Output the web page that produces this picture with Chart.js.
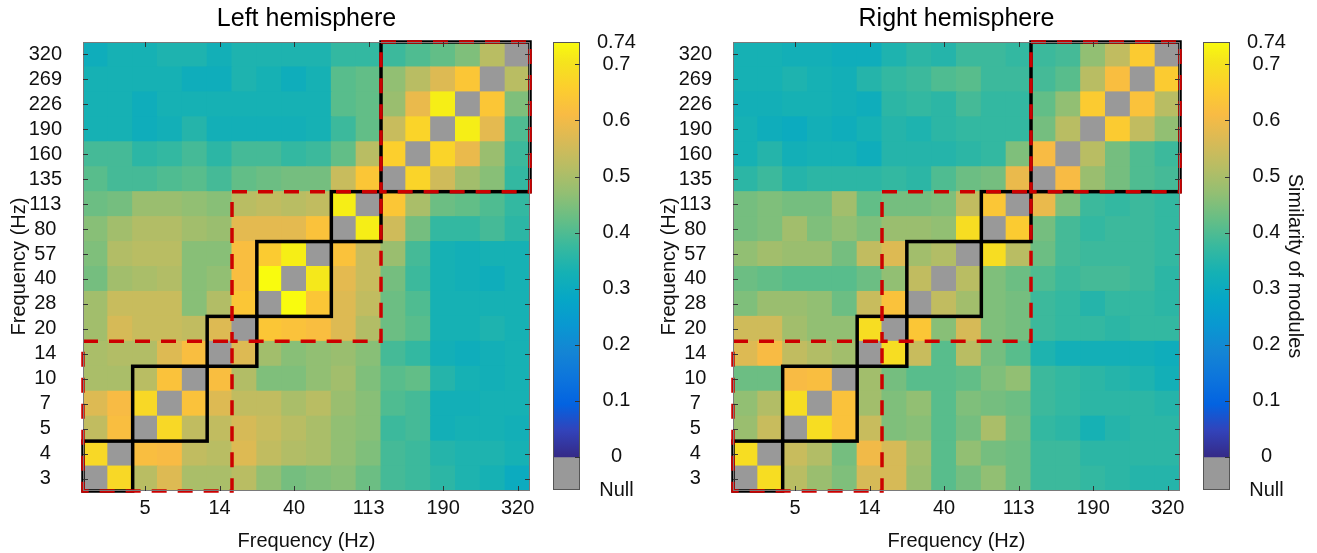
<!DOCTYPE html>
<html>
<head>
<meta charset="utf-8">
<script src="https://cdn.jsdelivr.net/npm/chart.js@4.4.1/dist/chart.umd.min.js"></script>
<style>
  html, body { margin: 0; padding: 0; background: #fff; }
  #wrap { position: relative; width: 1317px; height: 553px; overflow: hidden; }
  canvas { position: absolute; top: 0; }
</style>
</head>
<body>
<div id="wrap">
  <canvas id="leftMap" width="545" height="553" style="left:0px"></canvas>
  <canvas id="leftBar" width="100" height="553" style="left:545px"></canvas>
  <canvas id="rightMap" width="545" height="553" style="left:650px"></canvas>
  <canvas id="rightBar" width="122" height="553" style="left:1195px"></canvas>
</div>
<script>
// frequencies, rows listed bottom (3 Hz) to top (320 Hz)
const freqLabels = ['3', '4', '5', '7', '10', '14', '20', '28', '40', '57', '80', '113', '135', '160', '190', '226', '269', '320'];
const xTickLabels = ['5', '14', '40', '113', '190', '320'];
const colorbarTicks = [0, 0.1, 0.2, 0.3, 0.4, 0.5, 0.6, 0.7, 0.74];
const colorMax = 0.74;

// module boundaries as index ranges [start, end)
const modules = [[0, 2], [2, 5], [5, 7], [7, 10], [10, 12], [12, 18]];
const moduleGroups = [[0, 6], [6, 12], [12, 18]];

// similarity of modules, row i = freqLabels[i], null = diagonal
const leftHemisphere = [
  [null, 0.68, 0.52, 0.57, 0.50, 0.50, 0.52, 0.47, 0.44, 0.45, 0.46, 0.43, 0.39, 0.38, 0.36, 0.34, 0.33, 0.30], // 3
  [0.68, null, 0.62, 0.61, 0.53, 0.52, 0.57, 0.53, 0.51, 0.50, 0.47, 0.45, 0.39, 0.38, 0.35, 0.34, 0.34, 0.33], // 4
  [0.53, 0.62, null, 0.68, 0.53, 0.53, 0.56, 0.54, 0.52, 0.50, 0.47, 0.46, 0.38, 0.39, 0.32, 0.33, 0.33, 0.32], // 5
  [0.57, 0.61, 0.68, null, 0.63, 0.57, 0.53, 0.53, 0.50, 0.52, 0.48, 0.46, 0.40, 0.39, 0.32, 0.32, 0.33, 0.33], // 7
  [0.50, 0.50, 0.52, 0.63, null, 0.62, 0.51, 0.45, 0.45, 0.47, 0.49, 0.45, 0.41, 0.42, 0.35, 0.33, 0.32, 0.33], // 10
  [0.50, 0.51, 0.51, 0.57, 0.62, null, 0.57, 0.49, 0.46, 0.47, 0.48, 0.46, 0.39, 0.37, 0.32, 0.31, 0.32, 0.33], // 14
  [0.49, 0.56, 0.54, 0.54, 0.53, 0.57, null, 0.64, 0.63, 0.62, 0.57, 0.51, 0.43, 0.41, 0.33, 0.33, 0.34, 0.33], // 20
  [0.49, 0.54, 0.54, 0.54, 0.46, 0.51, 0.64, null, 0.74, 0.64, 0.57, 0.53, 0.43, 0.40, 0.33, 0.33, 0.33, 0.33], // 28
  [0.44, 0.49, 0.50, 0.51, 0.46, 0.47, 0.62, 0.74, null, 0.71, 0.58, 0.54, 0.44, 0.38, 0.33, 0.32, 0.31, 0.33], // 40
  [0.45, 0.51, 0.52, 0.52, 0.46, 0.46, 0.62, 0.65, 0.72, null, 0.63, 0.54, 0.48, 0.39, 0.33, 0.32, 0.33, 0.33], // 57
  [0.46, 0.49, 0.51, 0.51, 0.49, 0.48, 0.58, 0.58, 0.58, 0.63, null, 0.72, 0.55, 0.44, 0.37, 0.37, 0.39, 0.36], // 80
  [0.43, 0.44, 0.48, 0.48, 0.47, 0.46, 0.52, 0.53, 0.52, 0.53, 0.72, null, 0.64, 0.50, 0.43, 0.42, 0.40, 0.37], // 113
  [0.41, 0.39, 0.39, 0.40, 0.41, 0.39, 0.42, 0.43, 0.44, 0.44, 0.54, 0.64, null, 0.67, 0.55, 0.49, 0.46, 0.37], // 135
  [0.39, 0.39, 0.36, 0.37, 0.39, 0.36, 0.39, 0.39, 0.37, 0.38, 0.42, 0.52, 0.66, null, 0.67, 0.59, 0.48, 0.38], // 160
  [0.33, 0.33, 0.31, 0.32, 0.35, 0.32, 0.32, 0.32, 0.32, 0.33, 0.38, 0.42, 0.54, 0.67, null, 0.72, 0.58, 0.40], // 190
  [0.33, 0.33, 0.31, 0.33, 0.33, 0.33, 0.33, 0.33, 0.33, 0.33, 0.41, 0.42, 0.48, 0.59, 0.72, null, 0.64, 0.45], // 226
  [0.33, 0.33, 0.33, 0.33, 0.31, 0.31, 0.34, 0.33, 0.31, 0.33, 0.41, 0.42, 0.47, 0.52, 0.57, 0.64, null, 0.52], // 269
  [0.31, 0.33, 0.33, 0.34, 0.34, 0.32, 0.34, 0.34, 0.34, 0.34, 0.37, 0.37, 0.38, 0.40, 0.42, 0.45, 0.52, null]  // 320
];

const rightHemisphere = [
  [null, 0.69, 0.52, 0.48, 0.45, 0.56, 0.56, 0.48, 0.41, 0.44, 0.47, 0.43, 0.38, 0.38, 0.37, 0.36, 0.35, 0.35], // 3
  [0.69, null, 0.54, 0.51, 0.44, 0.60, 0.56, 0.49, 0.41, 0.47, 0.44, 0.43, 0.38, 0.38, 0.36, 0.36, 0.36, 0.36], // 4
  [0.48, 0.54, null, 0.69, 0.63, 0.54, 0.45, 0.46, 0.41, 0.44, 0.50, 0.44, 0.37, 0.36, 0.33, 0.35, 0.36, 0.36], // 5
  [0.47, 0.51, 0.69, null, 0.63, 0.49, 0.45, 0.47, 0.41, 0.45, 0.44, 0.43, 0.38, 0.37, 0.36, 0.36, 0.36, 0.35], // 7
  [0.43, 0.43, 0.61, 0.62, null, 0.49, 0.44, 0.41, 0.41, 0.42, 0.45, 0.47, 0.38, 0.37, 0.36, 0.35, 0.34, 0.32], // 10
  [0.57, 0.61, 0.53, 0.51, 0.49, null, 0.69, 0.54, 0.41, 0.52, 0.44, 0.41, 0.34, 0.32, 0.32, 0.32, 0.32, 0.31], // 14
  [0.55, 0.55, 0.49, 0.47, 0.47, 0.69, null, 0.64, 0.46, 0.56, 0.45, 0.44, 0.38, 0.37, 0.37, 0.36, 0.37, 0.37], // 20
  [0.45, 0.48, 0.48, 0.47, 0.43, 0.54, 0.63, null, 0.53, 0.49, 0.45, 0.44, 0.38, 0.37, 0.35, 0.37, 0.37, 0.36], // 28
  [0.43, 0.42, 0.41, 0.41, 0.41, 0.43, 0.47, 0.53, null, 0.52, 0.45, 0.43, 0.40, 0.38, 0.39, 0.39, 0.38, 0.36], // 40
  [0.47, 0.49, 0.48, 0.48, 0.44, 0.53, 0.57, 0.49, 0.51, null, 0.69, 0.52, 0.43, 0.39, 0.38, 0.38, 0.38, 0.37], // 57
  [0.44, 0.45, 0.49, 0.45, 0.47, 0.45, 0.48, 0.48, 0.47, 0.69, null, 0.65, 0.44, 0.39, 0.37, 0.38, 0.38, 0.37], // 80
  [0.44, 0.45, 0.44, 0.44, 0.49, 0.42, 0.44, 0.44, 0.45, 0.53, 0.64, null, 0.59, 0.45, 0.38, 0.37, 0.38, 0.37], // 113
  [0.36, 0.38, 0.35, 0.36, 0.36, 0.36, 0.37, 0.36, 0.40, 0.43, 0.44, 0.59, null, 0.61, 0.48, 0.44, 0.40, 0.39], // 135
  [0.33, 0.35, 0.32, 0.33, 0.33, 0.31, 0.35, 0.35, 0.35, 0.36, 0.37, 0.45, 0.61, null, 0.52, 0.44, 0.40, 0.38], // 160
  [0.33, 0.31, 0.30, 0.32, 0.31, 0.33, 0.35, 0.34, 0.36, 0.37, 0.37, 0.37, 0.44, 0.52, null, 0.65, 0.53, 0.47], // 190
  [0.32, 0.32, 0.33, 0.33, 0.32, 0.31, 0.36, 0.37, 0.36, 0.39, 0.37, 0.37, 0.42, 0.47, 0.65, null, 0.63, 0.52], // 226
  [0.33, 0.33, 0.34, 0.33, 0.32, 0.35, 0.37, 0.38, 0.40, 0.41, 0.38, 0.38, 0.39, 0.41, 0.52, 0.62, null, 0.65], // 269
  [0.33, 0.33, 0.32, 0.32, 0.31, 0.31, 0.34, 0.36, 0.35, 0.38, 0.38, 0.37, 0.38, 0.39, 0.47, 0.53, 0.65, null]  // 320
];

// styling
const nullColor = '#999999';
const nullBand = -0.059;  // grey "Null" strip under the colour bar
const fontFamily = '"Liberation Sans", Arial, Helvetica, sans-serif';
Chart.defaults.font.family = fontFamily;
Chart.defaults.font.size = 20;
Chart.defaults.color = '#111';

// parula, sampled every 4th entry of the 64 step map
const parula = [
  [0.2081, 0.1663, 0.5292], [0.1959, 0.2645, 0.7279], [0.0117, 0.3875, 0.8820],
  [0.0498, 0.4586, 0.8641], [0.0793, 0.5200, 0.8312], [0.0343, 0.5966, 0.8199],
  [0.0228, 0.6535, 0.7768], [0.0843, 0.6928, 0.7062], [0.2178, 0.7250, 0.6193],
  [0.3953, 0.7459, 0.5244], [0.5709, 0.7485, 0.4494], [0.7184, 0.7411, 0.3905],
  [0.8507, 0.7299, 0.3360], [0.9739, 0.7314, 0.2666], [0.9880, 0.8066, 0.1794],
  [0.9589, 0.8949, 0.1132], [0.9763, 0.9831, 0.0538]
];
const parulaPos = parula.map((c, i) => i === parula.length - 1 ? 1 : (i * 4) / 63);

function toCss(c) {
  return 'rgb(' + c.map(v => Math.round(v * 255)).join(',') + ')';
}

function valueColor(v) {
  let t = Math.max(0, Math.min(1, v / colorMax));
  for (let i = 1; i < parula.length; i++) {
    if (t <= parulaPos[i]) {
      const f = (t - parulaPos[i - 1]) / (parulaPos[i] - parulaPos[i - 1]);
      const a = parula[i - 1], b = parula[i];
      return toCss(a.map((x, k) => x + (b[k] - x) * f));
    }
  }
  return toCss(parula[parula.length - 1]);
}

// modules, groups, axes box and inward ticks on top of the cells
const overlay = {
  id: 'overlay',
  afterDatasetsDraw(chart) {
    const {ctx, chartArea: a, scales: {x, y}} = chart;
    const edgeX = i => x.getPixelForValue(i - 0.5);
    const edgeY = i => y.getPixelForValue(i);
    const box = ([s, e]) => {
      ctx.strokeRect(edgeX(s), edgeY(e), edgeX(e) - edgeX(s), edgeY(s) - edgeY(e));
    };
    ctx.save();
    ctx.beginPath();
    ctx.rect(a.left - 2, a.top - 2, a.right - a.left + 4, a.bottom - a.top + 4);
    ctx.clip();
    ctx.lineWidth = 3.5;
    ctx.strokeStyle = '#000';
    modules.forEach(box);
    ctx.strokeStyle = '#cc0000';
    ctx.setLineDash([15, 11]);
    moduleGroups.forEach(box);
    ctx.restore();

    ctx.save();
    ctx.strokeStyle = '#7a7a7a';
    ctx.lineWidth = 1;
    ctx.strokeRect(a.left + 0.5, a.top + 0.5, a.right - a.left - 1, a.bottom - a.top - 1);
    ctx.strokeStyle = '#333';
    ctx.beginPath();
    x.ticks.forEach((t, i) => {
      if (!xTickLabels.includes(freqLabels[i])) return;
      const px = Math.round(x.getPixelForTick(i)) + 0.5;
      ctx.moveTo(px, a.bottom); ctx.lineTo(px, a.bottom - 5);
      ctx.moveTo(px, a.top); ctx.lineTo(px, a.top + 5);
    });
    y.ticks.forEach(t => {
      const py = Math.round(y.getPixelForValue(t.value)) + 0.5;
      ctx.moveTo(a.left, py); ctx.lineTo(a.left + 5, py);
      ctx.moveTo(a.right, py); ctx.lineTo(a.right - 5, py);
    });
    ctx.stroke();
    ctx.restore();
  }
};

function heatmap(id, title, matrix) {
  const datasets = matrix.map((row, r) => ({
    data: row.map(() => [r, r + 1]),
    backgroundColor: row.map(v => v === null ? nullColor : valueColor(v)),
    borderWidth: 0,
    inflateAmount: 0.5,
    grouped: false,
    barPercentage: 1,
    categoryPercentage: 1
  }));
  return new Chart(document.getElementById(id), {
    type: 'bar',
    data: {labels: freqLabels, datasets},
    options: {
      responsive: false,
      animation: false,
      devicePixelRatio: 1,
      layout: {padding: {left: 0, right: 15, top: 0, bottom: 0}},
      plugins: {
        legend: {display: false},
        tooltip: {enabled: false},
        title: {
          display: true, text: title, fullSize: false, color: '#000',
          font: {size: 25, weight: 'normal'}, padding: {top: 4, bottom: 8}
        }
      },
      scales: {
        x: {
          type: 'category',
          grid: {display: false},
          border: {display: false},
          ticks: {
            autoSkip: false, maxRotation: 0, padding: -3, color: '#111',
            callback(value) {
              const lab = this.getLabelForValue(value);
              return xTickLabels.includes(lab) ? lab : '';
            }
          },
          title: {display: true, text: 'Frequency (Hz)', color: '#111', padding: {top: 0, bottom: 0}},
          afterFit(scale) { scale.height = 62; }
        },
        y: {
          type: 'linear', min: 0, max: freqLabels.length,
          grid: {display: false},
          border: {display: false},
          ticks: {
            autoSkip: false, padding: 13, crossAlign: 'center', color: '#111',
            callback: (value) => freqLabels[Math.floor(value)]
          },
          afterBuildTicks(scale) {
            scale.ticks = freqLabels.map((f, i) => ({value: i + 0.5}));
          },
          title: {display: true, text: 'Frequency (Hz)', color: '#111', padding: {top: 7, bottom: 0}},
          afterFit(scale) { scale.width = 83; }
        }
      }
    },
    plugins: [overlay]
  });
}

const colorbarFrame = {
  id: 'colorbarFrame',
  afterDatasetsDraw(chart) {
    const {ctx, chartArea: a, scales: {y}} = chart;
    ctx.save();
    ctx.strokeStyle = '#555';
    ctx.lineWidth = 1;
    ctx.strokeRect(a.left + 0.5, a.top + 0.5, a.right - a.left - 1, a.bottom - a.top - 1);
    ctx.strokeStyle = '#333';
    ctx.beginPath();
    colorbarTicks.filter(v => v < colorMax).forEach(v => {
      const py = Math.round(y.getPixelForValue(v)) + 0.5;
      ctx.moveTo(a.right, py); ctx.lineTo(a.right - 5, py);
    });
    ctx.stroke();
    ctx.restore();
  }
};

function colorbar(id, width, label) {
  return new Chart(document.getElementById(id), {
    type: 'bar',
    data: {
      labels: [''],
      datasets: [
        {
          data: [[0, colorMax]],
          backgroundColor(c) {
            const chart = c.chart;
            if (!chart.chartArea) return nullColor;
            const y = chart.scales.y;
            const g = chart.ctx.createLinearGradient(0, y.getPixelForValue(0), 0, y.getPixelForValue(colorMax));
            parula.forEach((col, i) => g.addColorStop(parulaPos[i], toCss(col)));
            return g;
          },
          borderWidth: 0, grouped: false, barPercentage: 1, categoryPercentage: 1
        },
        {
          data: [[nullBand, 0]],
          backgroundColor: nullColor,
          borderWidth: 0, grouped: false, barPercentage: 1, categoryPercentage: 1
        }
      ]
    },
    options: {
      responsive: false,
      animation: false,
      devicePixelRatio: 1,
      layout: {padding: {left: 8, right: 0, top: 42, bottom: 63}},
      plugins: {legend: {display: false}, tooltip: {enabled: false}},
      scales: {
        x: {display: false},
        y: {
          type: 'linear', position: 'right', min: nullBand, max: colorMax,
          grid: {display: false},
          border: {display: false},
          ticks: {
            autoSkip: false, padding: 9, crossAlign: 'center', color: '#111',
            callback: (v) => v === nullBand ? 'Null' : v === colorMax ? '0.74' : v === 0 ? '0' : v.toFixed(1)
          },
          afterBuildTicks(scale) {
            scale.ticks = [nullBand].concat(colorbarTicks).map(v => ({value: v}));
          },
          title: {display: !!label, text: label || '', color: '#111', padding: {top: 10, bottom: 0}},
          afterFit(scale) { scale.width = width - 8 - 27; }
        }
      }
    },
    plugins: [colorbarFrame]
  });
}

heatmap('leftMap', 'Left hemisphere', leftHemisphere);
heatmap('rightMap', 'Right hemisphere', rightHemisphere);
colorbar('leftBar', 100, '');
colorbar('rightBar', 122, 'Similarity of modules');
</script>
</body>
</html>
